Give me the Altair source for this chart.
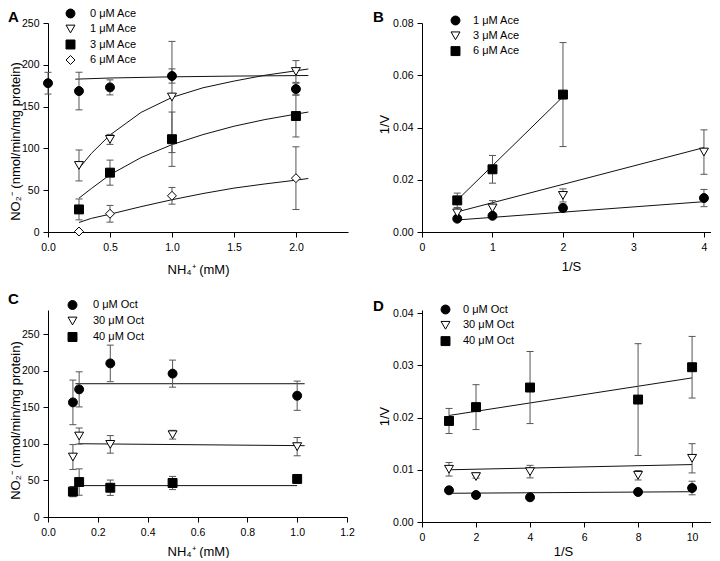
import altair as alt
import pandas as pd

FONT = "Liberation Sans"
ERR_COLOR = "#555555"
LINE_COLOR = "#111111"

# ---------------- Panel A : NO2- vs NH4+ at several Ace concentrations
a_series = ["0 μM Ace", "1 μM Ace", "3 μM Ace", "6 μM Ace"]
a_shapes = ["circle", "triangle-down", "square", "diamond"]
a_fills = ["black", "white", "black", "white"]
a_x0 = [0.0, 0.25, 0.5, 1.0, 2.0]
a_x = [0.25, 0.5, 1.0, 2.0]
a_ace0 = [178, 168.6, 173, 186.6, 171]
a_ace0_err = [13, 22.5, 9, 8.5, 7]
a_ace1 = [79.6, 110.8, 161.5, 192]
a_ace1_err = [18.5, 6, 66.5, 13]
a_ace3 = [27, 71, 111, 138.7]
a_ace3_err = [12.5, 15, 32.5, 25]
a_ace6 = [0.6, 21.8, 43.3, 64.4]
a_ace6_err = [0, 10, 10, 37.5]
# fitted curves
a_fit0_x = [0.22, 0.5, 1.0, 1.5, 2.1]
a_fit0_y = [182.8, 184.2, 185.6, 186.5, 187.2]
a_fit_x = [0.25, 0.35, 0.5, 0.75, 1.0, 1.25, 1.5, 1.75, 2.0, 2.1]
a_fit1_y = [76, 94, 116, 143, 161, 172.5, 180.5, 187.5, 192.8, 195]
a_fit3_y = [40.5, 52, 68.5, 89, 104.5, 116.5, 126.5, 134.5, 141, 143.5]
a_fit6_y = [11.4, 16.3, 21.3, 30.3, 38.6, 46, 52.5, 57.5, 62, 64]

# ---------------- Panel B : double reciprocal, Ace
b_series = ["1 μM Ace", "3 μM Ace", "\u20026 μM Ace"]
b_shapes = ["circle", "triangle-down", "square"]
b_fills = ["black", "white", "black"]
b_x = [0.5, 1, 2, 4]
b_x6 = [0.5, 1, 2]
b_ace1 = [0.0051, 0.0062, 0.0092, 0.0130]
b_ace1_err = [0.0008, 0.0008, 0.0015, 0.0033]
b_ace3 = [0.0073, 0.0092, 0.0140, 0.0306]
b_ace3_err = [0.0020, 0.0028, 0.0025, 0.0085]
b_ace6 = [0.0121, 0.0240, 0.0526]
b_ace6_err = [0.0028, 0.0053, 0.0199]
b_fit_x = [0.5, 4.0]
b_fit1_y = [0.0046, 0.0116]
b_fit3_y = [0.0077, 0.0323]
b_fit6_x = [0.5, 2.0]
b_fit6_y = [0.0122, 0.0518]

# ---------------- Panel C : NO2- vs NH4+ at several Oct concentrations
c_series = ["0 μM Oct", "30 μM Oct", "40 μM Oct"]
c_shapes = ["circle", "triangle-down", "square"]
c_fills = ["black", "white", "black"]
c_x = [0.1, 0.125, 0.25, 0.5, 1.0]
c_oct0 = [156.7, 174.5, 210, 196, 165.8]
c_oct0_err = [30.5, 24, 25, 18.5, 20]
c_oct30 = [82, 110.7, 99.3, 112.5, 96.2]
c_oct30_err = [17, 11, 12, 6, 12.5]
c_oct40 = [34.7, 47.8, 40, 46.5, 52]
c_oct40_err = [7, 18, 10.5, 9, 3]
c_fit0_x = [0.11, 1.03]
c_fit0_y = [182.2, 182.2]
c_fit30_x = [0.12, 1.03]
c_fit30_y = [100.2, 97.5]
c_fit40_x = [0.11, 1.0]
c_fit40_y = [42.9, 42.9]

# ---------------- Panel D : double reciprocal, Oct
d_series = ["0 μM Oct", "30 μM Oct", "40 μM Oct"]
d_shapes = ["circle", "triangle-down", "square"]
d_fills = ["black", "white", "black"]
d_x = [1, 2, 4, 8, 10]
d_oct0 = [0.00607, 0.00517, 0.00473, 0.00575, 0.00651]
d_oct0_err = [0.0004, 0.0003, 0.0003, 0.0004, 0.0013]
d_oct30 = [0.0101, 0.0087, 0.00965, 0.00895, 0.0122]
d_oct30_err = [0.0013, 0.0003, 0.0012, 0.0009, 0.0028]
d_oct40 = [0.01935, 0.0220, 0.02575, 0.02345, 0.02964]
d_oct40_err = [0.0024, 0.0043, 0.0069, 0.0107, 0.0059]
d_fit_x = [1, 10]
d_fit0_y = [0.0055, 0.0058]
d_fit30_y = [0.0100, 0.0110]
d_fit40_y = [0.0204, 0.0276]


def points_table(groups):
    rows = []
    for name, xs, ys, es in groups:
        for x, y, e in zip(xs, ys, es):
            rows.append({"series": name, "x": x, "y": y, "lo": y - e, "hi": y + e})
    return pd.DataFrame(rows)


def fit_table(groups):
    rows = []
    for name, xs, ys in groups:
        for x, y in zip(xs, ys):
            rows.append({"series": name, "x": x, "y": y})
    return pd.DataFrame(rows)


def panel(pts, fit, order, shapes, fills, w, h, xdom, xvals, xfmt, xtitle,
          xtitle_x, xtitle_y, ydom, yvals, yfmt, ytitle, ytitle_x, ytitle_y,
          legend_x, legend_y, label_offset, row_pad, letter, letter_x, letter_y):
    xs = alt.Scale(domain=xdom, nice=False, zero=False)
    ys = alt.Scale(domain=ydom, nice=False, zero=False)
    xax = alt.Axis(values=xvals, format=xfmt, title=xtitle, titleX=xtitle_x,
                   titleY=xtitle_y, titleBaseline="alphabetic", titleAlign="center",
                   labelPadding=5)
    yax = alt.Axis(values=yvals, format=yfmt, title=ytitle, titleX=ytitle_x,
                   titleY=ytitle_y, titleBaseline="alphabetic", titleAlign="center",
                   titleAngle=270, labelPadding=4)
    X = alt.X("x:Q", scale=xs, axis=xax)
    leg = alt.Legend(orient="none", legendX=legend_x, legendY=legend_y, title=None,
                     padding=0, symbolSize=80, symbolStrokeWidth=1,
                     labelOffset=label_offset, rowPadding=row_pad,
                     labelFontSize=11, labelFont=FONT, labelColor="black")
    lines = alt.Chart(fit).mark_line(color=LINE_COLOR, strokeWidth=1).encode(
        x=X, y=alt.Y("y:Q", scale=ys, axis=yax), detail="series:N")
    bars = alt.Chart(pts).mark_rule(color=ERR_COLOR, strokeWidth=1).encode(
        x=X, y=alt.Y("lo:Q", scale=ys, axis=yax), y2="hi:Q")
    cap_lo = alt.Chart(pts).mark_tick(color=ERR_COLOR, thickness=1, size=7,
                                      orient="horizontal", opacity=1).encode(
        x=X, y=alt.Y("lo:Q", scale=ys, axis=yax))
    cap_hi = alt.Chart(pts).mark_tick(color=ERR_COLOR, thickness=1, size=7,
                                      orient="horizontal", opacity=1).encode(
        x=X, y=alt.Y("hi:Q", scale=ys, axis=yax))
    marks = alt.Chart(pts).mark_point(filled=False, size=80, strokeWidth=1,
                                      opacity=1, fillOpacity=1).encode(
        x=X, y=alt.Y("y:Q", scale=ys, axis=yax),
        shape=alt.Shape("series:N", scale=alt.Scale(domain=order, range=shapes), legend=leg),
        fill=alt.Fill("series:N", scale=alt.Scale(domain=order, range=fills), legend=leg),
        stroke=alt.Stroke("series:N", scale=alt.Scale(domain=order, range=["black"] * len(order)),
                          legend=leg))
    tag = alt.Chart(pd.DataFrame({"k": [0]})).mark_text(
        text=letter, font=FONT, fontSize=15, fontWeight="bold", align="left",
        baseline="alphabetic", color="black").encode(
        x=alt.value(letter_x), y=alt.value(letter_y))
    return alt.layer(lines, bars, cap_lo, cap_hi, marks, tag).properties(width=w, height=h)


pA = panel(
    points_table([(a_series[0], a_x0, a_ace0, a_ace0_err),
                  (a_series[1], a_x, a_ace1, a_ace1_err),
                  (a_series[2], a_x, a_ace3, a_ace3_err),
                  (a_series[3], a_x, a_ace6, a_ace6_err)]),
    fit_table([(a_series[0], a_fit0_x, a_fit0_y),
               (a_series[1], a_fit_x, a_fit1_y),
               (a_series[2], a_fit_x, a_fit3_y),
               (a_series[3], a_fit_x, a_fit6_y)]),
    a_series, a_shapes, a_fills, 300, 209,
    [0, 2.42], [0, 0.5, 1.0, 1.5, 2.0], ".1f", "NH₄⁺ (mM)", 150, 41,
    [0, 250], [0, 50, 100, 150, 200, 250], "d", "NO₂⁻ (nmol/min/mg protein)", -29, 118,
    17, -15, 14, 2.5, "A", -40, -1.5)

pB = panel(
    points_table([(b_series[0], b_x, b_ace1, b_ace1_err),
                  (b_series[1], b_x, b_ace3, b_ace3_err),
                  (b_series[2], b_x6, b_ace6, b_ace6_err)]),
    fit_table([(b_series[0], b_fit_x, b_fit1_y),
               (b_series[1], b_fit_x, b_fit3_y),
               (b_series[2], b_fit6_x, b_fit6_y)]),
    b_series, b_shapes, b_fills, 289, 209,
    [0, 4.1], [0, 1, 2, 3, 4], "d", "1/S", 149, 38,
    [0, 0.08], [0, 0.02, 0.04, 0.06, 0.08], ".2f", "1/V", -34, 101,
    28, -8, 12, 2.3, "B", -49, -1.5)

pC = panel(
    points_table([(c_series[0], c_x, c_oct0, c_oct0_err),
                  (c_series[1], c_x, c_oct30, c_oct30_err),
                  (c_series[2], c_x, c_oct40, c_oct40_err)]),
    fit_table([(c_series[0], c_fit0_x, c_fit0_y),
               (c_series[1], c_fit30_x, c_fit30_y),
               (c_series[2], c_fit40_x, c_fit40_y)]),
    c_series, c_shapes, c_fills, 299, 207,
    [0, 1.2], [0, 0.2, 0.4, 0.6, 0.8, 1.0, 1.2], ".1f", "NH₄⁺ (mM)", 150, 38,
    [0, 283], [0, 50, 100, 150, 200, 250], "d", "NO₂⁻ (nmol/min/mg protein)", -29, 110,
    19, -10.5, 15, 3, "C", -40, -6)

pD = panel(
    points_table([(d_series[0], d_x, d_oct0, d_oct0_err),
                  (d_series[1], d_x, d_oct30, d_oct30_err),
                  (d_series[2], d_x, d_oct40, d_oct40_err)]),
    fit_table([(d_series[0], d_fit_x, d_fit0_y),
               (d_series[1], d_fit_x, d_fit30_y),
               (d_series[2], d_fit_x, d_fit40_y)]),
    d_series, d_shapes, d_fills, 289, 212,
    [0, 10.7], [0, 2, 4, 6, 8, 10], "d", "1/S", 141, 33,
    [0, 0.0406], [0, 0.01, 0.02, 0.03, 0.04], ".2f", "1/V", -34, 106,
    18, -6, 12, 2.8, "D", -49, 1)

chart = alt.concat(
    pA, pB, pC, pD, columns=2,
    spacing={"row": 78, "column": 74}, bounds="flush",
).resolve_scale(
    x="independent", y="independent", shape="independent", fill="independent",
    stroke="independent"
).resolve_legend(
    shape="independent", fill="independent", stroke="independent"
).properties(padding=0).configure_view(stroke=None).configure_axis(
    domainColor="black", tickColor="black", labelColor="black", titleColor="black",
    labelFont=FONT, titleFont=FONT, labelFontSize=10.5, titleFontSize=13,
    titleFontWeight="normal", tickSize=5, grid=False, labelFlush=False,
    labelOverlap=False, domainWidth=1, tickWidth=1,
)

chart.save("out.html", embed_options={"renderer": "svg", "actions": False})
